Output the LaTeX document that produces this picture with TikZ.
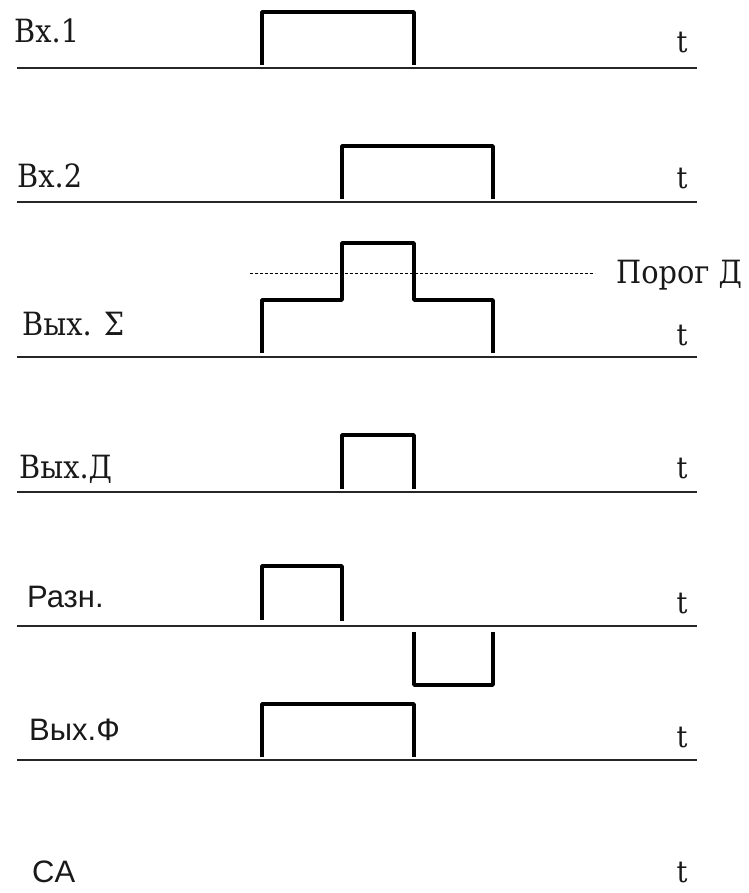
\documentclass[tikz,border=0pt]{standalone}
\usepackage{fontspec}
\setmainfont{DejaVu Serif}[FakeStretch=0.9]
\newfontfamily\labelsans{Liberation Sans}
\begin{document}
\begin{tikzpicture}[x=1pt,y=-1pt,
  axis/.style={line width=1.6pt,draw=black!85},
  pulse/.style={line width=3.6pt,line join=round},
  threshold/.style={line width=0.8pt,dash pattern=on 3pt off 2pt},
  slab/.style={anchor=base west,inner sep=0pt,text=black!90,font=\fontsize{32}{32}\selectfont},
  grot/.style={anchor=base west,inner sep=0pt,text=black!90,font=\labelsans\fontsize{31}{31}\selectfont},
  tmark/.style={anchor=base,inner sep=0pt,text=black!90,font=\fontsize{30}{30}\selectfont}]
\useasboundingbox (0,0) rectangle (748,893);

% time axes
\foreach \name/\y in {a1/68,a2/202,a3/357,a4/492,a5/626,a6/760}{
  \coordinate (\name l) at (17,\y);
  \coordinate (\name r) at (697,\y);
  \draw[axis] (\name l) -- (\name r);
}

% signal names
\node[slab] (in1) at (14,43) {Вх.1};
\node[slab] (in2) at (17,188) {Вх.2};
\node[slab] (sum) at (22,335) {Вых. Σ};
\node[slab] (outd) at (19,478) {Вых.Д};
\node[grot] (diff) at (27,607) {Разн.};
\node[grot] (outf) at (29,740) {Вых.Ф};
\node[grot,font=\labelsans\fontsize{31}{31}\selectfont] (ca) at (32,882) {CA};

% time marks
\foreach \name/\y in {t1/53,t2/189,t3/345,t4/478,t5/613,t6/747,t7/882}{
  \node[tmark] (\name) at (682,\y) {t};
}

% edges of the pulses
\def\xa{262}\def\xb{342}\def\xc{414}\def\xd{493}

% input 1
\draw[pulse] (\xa,65) -- (\xa,12) -- (\xc,12) -- (\xc,65);
% input 2
\draw[pulse] (\xb,199) -- (\xb,146) -- (\xd,146) -- (\xd,199);
% summed output
\draw[pulse] (\xa,353) -- (\xa,300) -- (\xb,300) -- (\xb,243)
  -- (\xc,243) -- (\xc,300) -- (\xd,300) -- (\xd,353);
% threshold level
\coordinate (thl) at (250,273);
\node[anchor=base west,inner sep=0pt,text=black!90,font=\fontsize{32}{32}\selectfont] (thr) at (616,283) {Порог Д};
\draw[threshold] (thl) -- (595,273);
% threshold output
\draw[pulse] (\xb,489) -- (\xb,435) -- (\xc,435) -- (\xc,489);
% difference
\draw[pulse] (\xa,620) -- (\xa,566) -- (\xb,566) -- (\xb,621);
\draw[pulse] (\xc,632) -- (\xc,685) -- (\xd,685) -- (\xd,632);
% F output
\draw[pulse] (\xa,757) -- (\xa,704) -- (\xc,704) -- (\xc,757);
\end{tikzpicture}
\end{document}
